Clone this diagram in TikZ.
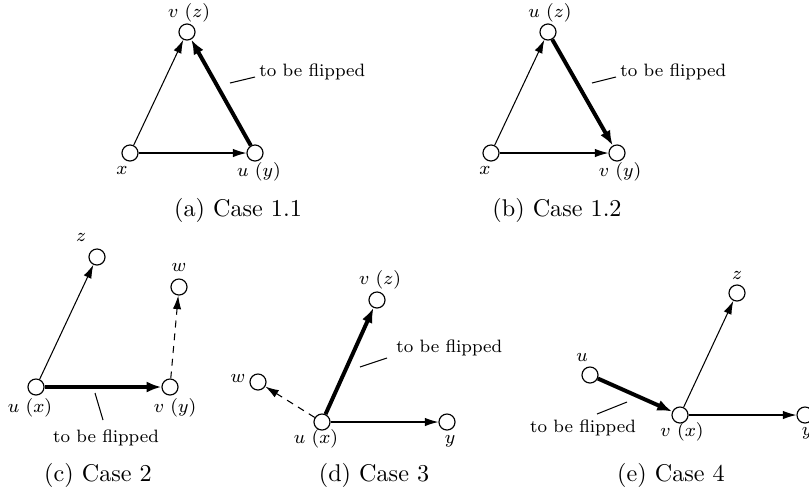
\documentclass[tikz,border=0pt]{standalone}
\usetikzlibrary{arrows.meta}
\begin{document}
\begin{tikzpicture}[x=0.43pt,y=-0.43pt,
  vtx/.style={circle,draw,line width=0.5pt,inner sep=0pt,minimum size=6.9pt,fill=white},
  lbl/.style={font=\fontsize{7.7}{9}\selectfont,inner sep=0pt},
  capt/.style={font=\fontsize{10.4}{12}\selectfont,inner sep=0pt},
  thinarr/.style={line width=0.45pt,-{Latex[length=5.8pt,width=3.6pt]}},
  thickarr/.style={line width=1.7pt,-{Latex[length=6.4pt,width=4.8pt]}},
  dasharr/.style={line width=0.45pt,dash pattern=on 3pt off 2.5pt,-{Latex[length=5.8pt,width=3.6pt]}},
  leader/.style={line width=0.45pt}]
\useasboundingbox (0,0) rectangle (809,498);

% ---------- (a) Case 1.1
\node[vtx] (ax) at (130,153) {};
\node[vtx] (au) at (255,153) {};
\node[vtx] (av) at (187,32) {};
\node[lbl] (axl) at (122,170) {$x$};
\node[lbl] (aul) at (259,172) {$u\ (y)$};
\node[lbl] (avl) at (189,13) {$v\ (z)$};
\draw[thinarr] (ax) -- (av);
\draw[thinarr] (ax) -- (au);
\draw[thickarr] (au) -- (av);
\coordinate (al1) at (230,83);
\coordinate (al2) at (255,77);
\draw[leader] (al1) -- (al2);
\node[lbl,anchor=west] (at) at (259,72) {to be flipped};
\node[capt] (acap) at (238,210) {(a) Case 1.1};

% ---------- (b) Case 1.2
\node[vtx] (bx) at (491,153) {};
\node[vtx] (bv) at (617,153) {};
\node[vtx] (bu) at (548,32) {};
\node[lbl] (bxl) at (485,170) {$x$};
\node[lbl] (bvl) at (620,172) {$v\ (y)$};
\node[lbl] (bul) at (550,13) {$u\ (z)$};
\draw[thinarr] (bx) -- (bu);
\draw[thinarr] (bx) -- (bv);
\draw[thickarr] (bu) -- (bv);
\coordinate (bl1) at (592,83);
\coordinate (bl2) at (616,77);
\draw[leader] (bl1) -- (bl2);
\node[lbl,anchor=west] (bt) at (620,72) {to be flipped};
\node[capt] (bcap) at (557,210) {(b) Case 1.2};

% ---------- (c) Case 2
\node[vtx] (cu) at (36,387) {};
\node[vtx] (cv) at (170,387) {};
\node[vtx] (cz) at (97,257) {};
\node[vtx] (cw) at (179,287) {};
\node[lbl] (czl) at (81,237) {$z$};
\node[lbl] (cwl) at (179,267) {$w$};
\node[lbl] (cul) at (30,408) {$u\ (x)$};
\node[lbl] (cvl) at (175,408) {$v\ (y)$};
\draw[thinarr] (cu) -- (cz);
\draw[thickarr] (cu) -- (cv);
\draw[dasharr] (cv) -- (cw);
\coordinate (cl1) at (95,393);
\coordinate (cl2) at (103,420);
\draw[leader] (cl1) -- (cl2);
\node[lbl] (ct) at (106,438) {to be flipped};
\node[capt] (ccap) at (98,475) {(c) Case 2};

% ---------- (d) Case 3
\node[vtx] (du) at (322,422) {};
\node[vtx] (dv) at (377,300) {};
\node[vtx] (dw) at (258,382) {};
\node[vtx] (dy) at (447,422) {};
\node[lbl] (dvl) at (380,280) {$v\ (z)$};
\node[lbl] (dwl) at (238,378) {$w$};
\node[lbl] (dul) at (316,439) {$u\ (x)$};
\node[lbl] (dyl) at (450,441) {$y$};
\draw[thickarr] (du) -- (dv);
\draw[dasharr] (du) -- (dw);
\draw[thinarr] (du) -- (dy);
\coordinate (dl1) at (360,367);
\coordinate (dl2) at (387,358);
\draw[leader] (dl1) -- (dl2);
\node[lbl,anchor=west] (dt) at (396,348) {to be flipped};
\node[capt] (dcap) at (374,475) {(d) Case 3};

% ---------- (e) Case 4
\node[vtx] (ev) at (680,415) {};
\node[vtx] (eu) at (590,375) {};
\node[vtx] (ez) at (737,293) {};
\node[vtx] (ey) at (805,415) {};
\node[lbl] (ezl) at (737,275) {$z$};
\node[lbl] (eul) at (582,357) {$u$};
\node[lbl] (evl) at (682,432) {$v\ (x)$};
\node[lbl] (eyl) at (807,433) {$y$};
\draw[thickarr] (eu) -- (ev);
\draw[thinarr] (ev) -- (ez);
\draw[thinarr] (ev) -- (ey);
\coordinate (el1) at (597,414);
\coordinate (el2) at (627,402);
\draw[leader] (el1) -- (el2);
\node[lbl] (et) at (583,428) {to be flipped};
\node[capt] (ecap) at (671,475) {(e) Case 4};
\end{tikzpicture}
\end{document}
